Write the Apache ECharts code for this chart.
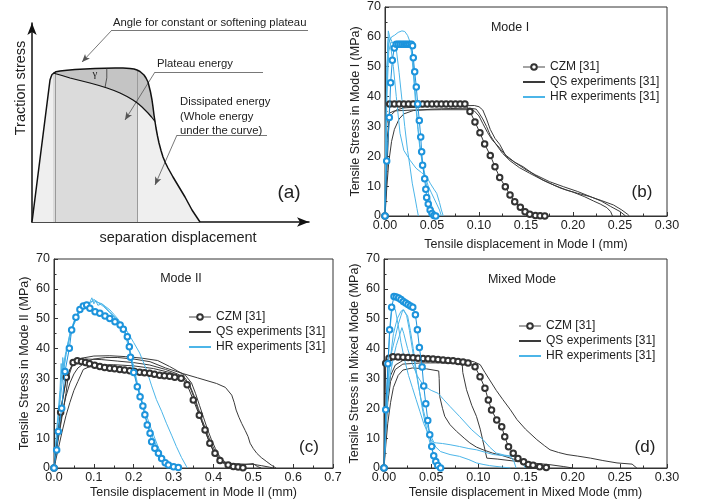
<!DOCTYPE html>
<html><head><meta charset="utf-8">
<script src="https://cdn.jsdelivr.net/npm/echarts@6/dist/echarts.min.js"></script>
<style>html,body{margin:0;padding:0;background:#fff}#c{width:702px;height:504px}</style>
</head><body><div id="c"></div>
<script>
// ---------- Panel (a) schematic (arbitrary units) ----------
const schemUpper = [[0,0],[18,142],[19,145],[20,147.5],[21,149],[24,150.3],[28,151],[35,151.8],[43,152.5],[53,153],[63,153.5],[73,153.8],[83,154],[91,153.9],[98,153.5],[102,153],[105,152],[108,150.5],[110,149],[112,147],[114,144],[116,140],[117,136],[118.5,130],[120,122],[121,115],[122,107],[123,100.5],[124,94],[125.5,86],[127,79],[129,71.5],[131,65],[133.5,59],[136,54],[138.5,49.5],[141,45],[144,40],[147,35],[150,30],[153,25],[156.5,18.5],[160,12],[164,6],[168,0]];
const schemLower = [[21,149],[30,146.5],[38,144],[48,141.5],[58,139],[67,136.5],[75,134],[82,131.5],[88,129],[95,125.5],[101,122],[106,118.5],[110,115],[113,112],[116,109],[119.5,105],[123,100.5]];
const schemBand = [23, 105];
const notes = [
  {text:'Angle for constant or softening plateau', line:[[80,192],[276,192]], arrow:[[80,192],[50,160]]},
  {text:'Plateau energy', line:[[123,150],[231,150]], arrow:[[123,150],[93,102]]},
  {text:'Dissipated energy\n(Whole energy\nunder the curve)', line:[[145,87],[235,87]], arrow:[[145,87],[123,37]]}
];

// ---------- Panel (b) Mode I ----------
const modeI_czmQS = [[0,0],[0.005,37.5],[0.010,37.5],[0.015,37.5],[0.020,37.5],[0.025,37.5],[0.030,37.5],[0.035,37.5],[0.040,37.5],[0.045,37.5],[0.050,37.5],[0.055,37.5],[0.060,37.5],[0.065,37.5],[0.070,37.5],[0.075,37.5],[0.080,37.5],[0.085,37.5],[0.0904,35],[0.0957,31.5],[0.101,27.9],[0.106,24.1],[0.112,20.3],[0.117,16.5],[0.122,12.9],[0.128,9.8],[0.133,7.0],[0.138,4.8],[0.144,2.9],[0.149,1.4],[0.154,0.6],[0.160,0.2],[0.165,0.05],[0.170,0]];
const modeI_czmHR = [[0,0],[0.0018,18.4],[0.0046,33],[0.006,44.6],[0.0078,52.2],[0.0099,56.3],[0.012,57.5],[0.014,57.5],[0.016,57.5],[0.018,57.5],[0.020,57.5],[0.022,57.5],[0.024,57.5],[0.026,57.5],[0.028,57.5],[0.0293,57],[0.0301,53],[0.0316,48.3],[0.0333,43.2],[0.0348,37.5],[0.0365,32],[0.038,26.5],[0.039,21.5],[0.040,17],[0.0422,12.5],[0.0434,9],[0.0443,6.2],[0.046,4],[0.048,2],[0.050,0.8],[0.052,0.2],[0.054,0]];
const modeI_qs1 = [[0,0],[0.001,15],[0.002,25],[0.004,31],[0.007,34],[0.012,35.5],[0.02,36.2],[0.04,36.6],[0.06,36.8],[0.08,36.9],[0.095,37],[0.1,36.6],[0.104,35.5],[0.108,32.5],[0.112,29],[0.117,26],[0.122,24],[0.129,19.9],[0.138,18],[0.147,16.5],[0.158,14],[0.168,12],[0.18,10.3],[0.193,8.7],[0.205,7.6],[0.218,6.5],[0.23,5.2],[0.243,3.7],[0.252,2],[0.258,0.6],[0.26,0]];
const modeI_qs2 = [[0,0],[0.002,10],[0.004,18],[0.007,25],[0.01,29],[0.015,32.5],[0.02,34.2],[0.03,35.3],[0.05,35.8],[0.07,36],[0.09,36.1],[0.097,35.8],[0.1,34.5],[0.104,32.5],[0.108,30],[0.112,27],[0.117,24.5],[0.125,21],[0.133,18.5],[0.143,16.2],[0.154,14.3],[0.165,12.5],[0.175,11],[0.187,9.3],[0.2,8],[0.212,6.5],[0.222,5],[0.229,4],[0.236,2.8],[0.24,1.5],[0.242,0]];
const modeI_qs3 = [[0,0],[0.0005,12],[0.001,22],[0.0015,28],[0.002,31],[0.003,33],[0.005,34.5],[0.01,35.2],[0.03,35.5],[0.06,35.6],[0.09,35.6],[0.095,35.2],[0.1,33.5],[0.104,31],[0.109,28],[0.114,25.5],[0.12,23.5],[0.128,20.5],[0.138,18],[0.15,15.5],[0.16,13.8],[0.175,11.5],[0.19,9.8],[0.205,8.2],[0.22,6.3],[0.23,5],[0.24,3.2],[0.25,1.5],[0.256,0]];
const modeI_hr1 = [[0,0],[0.001,22],[0.002,45],[0.0035,62],[0.005,60],[0.008,58],[0.0117,56.7],[0.015,48],[0.018,39],[0.021,30],[0.024,22],[0.0266,16.5],[0.029,11],[0.032,6],[0.034,2.5],[0.0355,0]];
const modeI_hr2 = [[0,0],[0.001,25],[0.002,48],[0.003,58],[0.004,60],[0.006,57],[0.0089,50],[0.012,40],[0.016,27.7],[0.02,22],[0.0266,18.7],[0.033,16],[0.039,14.5],[0.0443,13.2],[0.048,11],[0.052,9],[0.055,7.6],[0.058,4.5],[0.06,2],[0.062,0]];
const modeI_hr3 = [[0,0],[0.001,30],[0.002,50],[0.004,58],[0.007,60],[0.010,60.5],[0.014,61.5],[0.018,62],[0.021,61.8],[0.024,60.5],[0.027,58],[0.029,52],[0.031,44],[0.033,36],[0.035,29],[0.037,23],[0.040,17],[0.043,12],[0.046,8],[0.049,4],[0.052,1.5],[0.055,0]];
const modeI_hr4 = [[0,0],[0.002,40],[0.004,55],[0.006,58],[0.015,58.5],[0.025,58],[0.029,55],[0.031,47],[0.033,38],[0.035,30],[0.037,24],[0.040,18],[0.043,13],[0.046,10],[0.049,8],[0.052,6],[0.055,4],[0.058,2],[0.060,0]];

// ---------- Panel (c) Mode II ----------
const modeII_czmQS = [[0,0],[0.0167,18.7],[0.031,30.4],[0.048,35.3],[0.0585,35.9],[0.069,35.7],[0.079,35.3],[0.089,34.9],[0.102,34.4],[0.115,34],[0.127,33.7],[0.14,33.4],[0.152,33.2],[0.165,33],[0.177,32.8],[0.19,32.6],[0.202,32.3],[0.215,32.1],[0.227,31.9],[0.24,31.7],[0.252,31.4],[0.265,31.1],[0.277,30.9],[0.29,30.7],[0.303,30.4],[0.319,30.1],[0.334,27.9],[0.3495,22.8],[0.3646,17.7],[0.379,12.7],[0.391,8.3],[0.404,4.9],[0.4165,2.5],[0.437,1],[0.45,0.5],[0.462,0.3],[0.474,0.1]];
const modeII_czmHR = [[0,0],[0.0067,6],[0.0108,12.2],[0.0193,20],[0.0276,32.3],[0.0385,40.1],[0.0443,46.2],[0.055,50.5],[0.065,53.1],[0.0736,54.3],[0.082,54.6],[0.09,53.5],[0.103,52.3],[0.115,51.8],[0.128,50.9],[0.14,50.1],[0.153,49],[0.166,47.9],[0.174,46.5],[0.184,44],[0.189,40.6],[0.192,37.1],[0.2,32],[0.209,27.2],[0.216,23.9],[0.223,20.8],[0.228,17.8],[0.234,14.4],[0.241,11.6],[0.245,8.8],[0.253,6.6],[0.262,4.9],[0.27,3.2],[0.279,1.8],[0.287,1],[0.3,0.4],[0.312,0.2]];
const modeII_qs1 = [[0,0],[0.01,10],[0.02,18],[0.03,24],[0.04,28.5],[0.05,31.5],[0.06,33.5],[0.08,35.5],[0.1,36.5],[0.13,37],[0.16,37],[0.2,36.5],[0.241,35.6],[0.28,33.5],[0.324,31.6],[0.36,30.2],[0.408,28.3],[0.43,27],[0.446,24.4],[0.452,22],[0.457,19.4],[0.464,17],[0.471,14.9],[0.48,12.5],[0.487,10.5],[0.492,8.3],[0.5,6.5],[0.509,4.9],[0.52,3.5],[0.534,2.1],[0.545,1],[0.557,0]];
const modeII_qs2 = [[0,0],[0.01,12],[0.02,22],[0.03,29],[0.04,33],[0.05,35],[0.07,36.8],[0.1,37.5],[0.14,37.6],[0.18,37.3],[0.22,36.8],[0.26,36],[0.29,34],[0.31,32.5],[0.33,31],[0.345,28.5],[0.355,25],[0.365,21],[0.375,17],[0.385,13],[0.395,9.5],[0.405,6.5],[0.415,4],[0.425,2.5],[0.435,1.5],[0.44,1.2],[0.5,1.2],[0.52,0.8],[0.54,0.3],[0.55,0]];
const modeII_qs3 = [[0,0],[0.01,9],[0.02,17],[0.03,25],[0.035,30],[0.045,34],[0.06,36],[0.08,36.5],[0.12,36.3],[0.16,35.8],[0.2,35.3],[0.24,34.5],[0.28,33],[0.31,31.5],[0.33,30],[0.34,27.5],[0.35,24],[0.36,20],[0.37,16],[0.38,12],[0.39,8.5],[0.4,5.5],[0.41,3.5],[0.42,2],[0.43,1.2],[0.44,0.6],[0.46,0.3],[0.48,0]];
const modeII_qs4 = [[0,0],[0.01,6],[0.02,12],[0.03,17.5],[0.04,22],[0.05,26],[0.06,29],[0.0735,33],[0.09,34],[0.115,34.5],[0.15,34.6],[0.2,34.2],[0.25,33.3],[0.29,32],[0.32,30.5],[0.34,28],[0.352,24],[0.362,20],[0.372,16],[0.382,12.5],[0.392,9],[0.403,6],[0.415,3.5],[0.425,2],[0.44,1.2],[0.47,1],[0.5,1.5],[0.51,0.5],[0.52,0]];
const modeII_hr1 = [[0,0],[0.005,8],[0.01,15],[0.015,22],[0.02,28],[0.025,34],[0.03,38],[0.04,44],[0.05,48],[0.06,51],[0.07,53.5],[0.08,54.5],[0.09,55.5],[0.1,56],[0.12,55],[0.14,52.4],[0.16,49.5],[0.181,46.3],[0.2,42],[0.215,38.5],[0.232,32.9],[0.245,27.5],[0.257,22.9],[0.27,19],[0.282,15],[0.295,11],[0.307,7.2],[0.32,3.5],[0.332,0.6],[0.335,0]];
const modeII_hr2 = [[0,0],[0.005,10],[0.01,18],[0.015,26],[0.018,35],[0.02,30],[0.022,37],[0.025,33],[0.03,38],[0.04,45],[0.05,49],[0.06,52],[0.07,54],[0.08,54.5],[0.09,55.5],[0.095,57],[0.1,55],[0.105,56],[0.11,54.5],[0.12,55],[0.13,54],[0.14,53],[0.15,51.5],[0.16,50],[0.17,48],[0.18,45],[0.19,40],[0.2,34],[0.21,28],[0.22,23],[0.23,18.5],[0.24,14.5],[0.25,11],[0.26,7.5],[0.27,4.5],[0.28,2.5],[0.29,1],[0.3,0]];
const modeII_hr3 = [[0,0],[0.008,12],[0.015,24],[0.02,32],[0.03,39],[0.04,45],[0.05,49],[0.06,51.5],[0.07,53],[0.08,54],[0.09,55],[0.1,56.5],[0.11,55.5],[0.125,54],[0.14,52],[0.155,50],[0.17,47],[0.18,44],[0.19,39],[0.2,33],[0.21,27],[0.22,22],[0.23,17],[0.24,13],[0.25,9.5],[0.26,6.5],[0.27,4],[0.28,2],[0.29,0.8],[0.3,0]];

// ---------- Panel (d) Mixed Mode ----------
const mixed_czmQS = [[0,0],[0.0018,35.1],[0.0053,36.8],[0.0096,37.3],[0.0149,37.2],[0.0202,37.1],[0.0255,37.0],[0.0308,36.9],[0.0361,36.8],[0.0414,36.7],[0.0467,36.6],[0.052,36.5],[0.0573,36.3],[0.0626,36.2],[0.0679,36.0],[0.0732,35.9],[0.0785,35.7],[0.0838,35.5],[0.0891,35.2],[0.0965,33.9],[0.1018,30.6],[0.107,26.7],[0.1106,22.8],[0.114,19.4],[0.1195,16.1],[0.1248,13.8],[0.128,10.5],[0.132,7.1],[0.137,4.9],[0.142,3.2],[0.148,2.1],[0.153,1.2],[0.158,0.9],[0.165,0.4],[0.172,0.2]];
const mixed_czmHR = [[0,0],[0.0018,19.5],[0.0042,34.9],[0.006,46.3],[0.0081,53.8],[0.0106,57.4],[0.013,57.3],[0.0155,56.9],[0.018,56.4],[0.0205,55.8],[0.023,55.3],[0.0255,54.8],[0.028,54.3],[0.0305,53.8],[0.0333,51.3],[0.0354,46.3],[0.0375,40.4],[0.0404,33.8],[0.0421,27.5],[0.0443,21.5],[0.0464,15.9],[0.0485,11.1],[0.0506,7.2],[0.0527,4.1],[0.0549,2.2],[0.057,0.8],[0.06,0]];
const mixed_qs1 = [[0,0],[0.002,15],[0.004,25],[0.007,31],[0.012,34.5],[0.02,36],[0.04,36.6],[0.06,36.5],[0.08,36.3],[0.09,36],[0.096,35.5],[0.102,34.6],[0.107,32],[0.112,29.5],[0.119,26],[0.126,22.9],[0.134,19.5],[0.141,16.2],[0.15,13],[0.162,9.5],[0.17,7.5],[0.176,6.1],[0.185,5.2],[0.194,4.5],[0.205,4],[0.219,3.3],[0.232,2.5],[0.247,1.7],[0.263,1.3],[0.266,0.5],[0.268,0]];
const mixed_qs2 = [[0,0],[0.002,12],[0.004,22],[0.007,29],[0.012,33],[0.02,34.8],[0.04,35.2],[0.06,35.2],[0.075,35],[0.083,34.5],[0.0835,32],[0.0875,26.2],[0.093,21],[0.098,17.3],[0.102,13],[0.107,6.1],[0.109,3.3],[0.12,3],[0.141,2.2],[0.16,1.6],[0.176,1.1],[0.19,0.5],[0.2,0]];
const mixed_qs3 = [[0,0],[0.002,8],[0.004,15],[0.007,22],[0.01,27],[0.015,31],[0.02,32.8],[0.03,33.5],[0.045,33.2],[0.058,32.5],[0.0585,30],[0.059,24],[0.062,20],[0.0644,17.3],[0.07,14.5],[0.0768,12.3],[0.085,10],[0.091,8.4],[0.098,7],[0.105,6.1],[0.115,5],[0.126,4.1],[0.137,3],[0.148,2.2],[0.156,1.4],[0.162,0.8],[0.165,0]];
const mixed_hr1 = [[0,0],[0.002,15],[0.004,28],[0.006,36],[0.009,40],[0.012,44],[0.015,48],[0.018,51],[0.02,53],[0.022,53.5],[0.025,51],[0.028,46],[0.031,40],[0.034,33],[0.037,27],[0.04,21],[0.043,16],[0.046,12],[0.049,8],[0.052,5],[0.055,2.5],[0.058,1],[0.06,0]];
const mixed_hr2 = [[0,0],[0.002,14],[0.004,24],[0.007,32],[0.01,37],[0.013,41],[0.016,44],[0.019,47],[0.021,45],[0.025,40],[0.03,35],[0.035,31],[0.04,28.5],[0.045,27],[0.05,26],[0.0574,25],[0.063,23],[0.07,20.6],[0.08,17.3],[0.093,12.8],[0.105,9.5],[0.112,7],[0.119,5],[0.128,4.3],[0.137,3.9],[0.142,3.3],[0.147,1.5],[0.15,0]];
const mixed_hr3 = [[0,0],[0.003,20],[0.006,35],[0.01,45],[0.014,50],[0.018,52.5],[0.021,53],[0.024,51],[0.027,46],[0.03,40],[0.034,32],[0.038,25],[0.042,19],[0.046,14],[0.05,10.5],[0.053,8.5],[0.0556,8.4],[0.062,8.2],[0.07,7.8],[0.08,7.2],[0.09,6.5],[0.098,6.1],[0.107,5.3],[0.116,4.5],[0.125,4.2],[0.134,3.9],[0.138,2],[0.14,0]];
const mixed_hr4 = [[0,0],[0.002,18],[0.004,33],[0.006,45],[0.008,52],[0.01,54],[0.012,53],[0.015,48],[0.018,42],[0.022,36],[0.026,31],[0.03,27],[0.034,23],[0.038,19],[0.042,15],[0.046,12],[0.05,9.5],[0.055,7],[0.06,5.5],[0.07,4.5],[0.08,3.9],[0.09,2.8],[0.098,1.7],[0.105,1.2],[0.112,0.8],[0.125,0.3],[0.134,0]];

// ---------- text ----------
const legendNames = ['CZM [31]','QS experiments [31]','HR experiments [31]'];
const panelTitles = ['Mode I','Mode II','Mixed Mode'];
const xNames = ['Tensile displacement in Mode I (mm)','Tensile displacement in Mode II (mm)','Tensile displacement in Mixed Mode (mm)'];
const yNames = ['Tensile Stress in Mode I (MPa)','Tensile Stress in Mode II (MPa)','Tensile Stress in Mixed Mode (MPa)'];
const xMax = [0.3, 0.7, 0.3];
const xStep = [0.05, 0.1, 0.05];
const xDec = [2, 1, 2];
const yMax = 70, yStep = 10;

const FONT = '"Liberation Sans", Arial, Helvetica, sans-serif';
const BLACK = '#333333', QSC = '#3a3a3a', HRC = '#4cb5e8', BLUE = '#1d94dc';

function interpY(pts, x) {
  for (let i = 0; i < pts.length - 1; i++) {
    const a = pts[i], b = pts[i+1];
    if (x >= a[0] && x <= b[0]) return a[1] + (b[1]-a[1]) * (x-a[0]) / (b[0]-a[0]);
  }
  return 0;
}
function clipX(pts, x0, x1) {
  const out = [[x0, interpY(pts, x0)]];
  pts.forEach(p => { if (p[0] > x0 && p[0] < x1) out.push(p); });
  out.push([x1, interpY(pts, x1)]);
  return out;
}

const grids = [
  {left:32, top:23, width:277, height:199},
  {left:385, top:7, width:282, height:209, show:true, borderColor:'#333', borderWidth:1},
  {left:54, top:259, width:279, height:209, show:true, borderColor:'#333', borderWidth:1},
  {left:384, top:259, width:283, height:209, show:true, borderColor:'#333', borderWidth:1}
];

const xAxes = [{
  gridIndex:0, type:'value', min:0, max:277,
  axisLine:{show:true, onZero:false, symbol:['none','arrow'], symbolSize:[7,12], lineStyle:{color:'#111', width:1.5}},
  axisTick:{show:false}, axisLabel:{show:false}, splitLine:{show:false}
}];
const yAxes = [{
  gridIndex:0, type:'value', min:0, max:199,
  axisLine:{show:true, onZero:false, symbol:['none','arrow'], symbolSize:[7,12], lineStyle:{color:'#111', width:1.5}},
  axisTick:{show:false}, axisLabel:{show:false}, splitLine:{show:false}
}];
const xGap = [22, 18, 18];
for (let i = 0; i < 3; i++) {
  xAxes.push({
    gridIndex:i+1, type:'value', min:0, max:xMax[i], interval:xStep[i],
    name:xNames[i], nameLocation:'middle', nameGap:xGap[i],
    nameTextStyle:{fontSize:12.5, color:'#222', fontFamily:FONT},
    axisLine:{show:true, onZero:false, lineStyle:{color:'#333', width:1}},
    axisTick:{show:true, inside:true, length:4, lineStyle:{color:'#333'}},
    minorTick:{show:true, splitNumber:2, length:2.5, lineStyle:{color:'#333'}},
    axisLabel:{fontSize:12.5, color:'#222', margin:3, fontFamily:FONT, showMinLabel:true, showMaxLabel:true,
      formatter:(v => v.toFixed(xDec[i]))},
    splitLine:{show:false}
  });
  yAxes.push({
    gridIndex:i+1, type:'value', min:0, max:yMax, interval:yStep,
    name:yNames[i], nameLocation:'middle', nameGap:23,
    nameTextStyle:{fontSize:12.5, color:'#222', fontFamily:FONT},
    axisLine:{show:true, onZero:false, lineStyle:{color:'#333', width:1}},
    axisTick:{show:true, inside:true, length:4, lineStyle:{color:'#333'}},
    minorTick:{show:true, splitNumber:2, length:2.5, lineStyle:{color:'#333'}},
    axisLabel:{fontSize:12.5, color:'#222', margin:4, fontFamily:FONT, showMinLabel:true, showMaxLabel:true},
    splitLine:{show:false}
  });
}

function base(name, data, gi, z) {
  return {type:'line', name:name, data:data, xAxisIndex:gi, yAxisIndex:gi, z:z, animation:false, silent:true, clip:true};
}
function lineS(name, data, gi, color, width, z) {
  return Object.assign(base(name, data, gi, z), {symbol:'none', showSymbol:false, lineStyle:{color:color, width:width}, itemStyle:{color:color}});
}
function czmS(data, gi, color, z) {
  return Object.assign(base('CZM [31]', data, gi, z), {symbol:'emptyCircle', symbolSize:5.5, showSymbol:true,
    lineStyle:{color:color, width:1}, itemStyle:{color:color, borderColor:color, borderWidth:0.8}});
}
function fillS(name, data, color, z) {
  return Object.assign(base(name, data, 0, z), {symbol:'none', smooth:false, lineStyle:{width:0, opacity:0}, areaStyle:{color:color, opacity:1}});
}

const series = [];
// Panel (a)
series.push(fillS('a_total', schemUpper, '#efefef', 1));
series.push(fillS('a_plateau', clipX(schemUpper, schemLower[0][0], schemLower[schemLower.length-1][0]), '#c4c4c4', 2));
series.push(fillS('a_band', clipX(schemLower, schemLower[0][0], schemBand[1]), '#dbdbdb', 3));
series.push(fillS('a_rest', clipX(schemLower, schemBand[1], schemLower[schemLower.length-1][0]), '#efefef', 3));
series.push(Object.assign(base('a_bandlines', [], 0, 4), {symbol:'none',
  markLine:{silent:true, animation:false, symbol:['none','none'], label:{show:false}, lineStyle:{type:'solid', color:'#9a9a9a', width:1},
    data: schemBand.map(x => [{coord:[x,0]},{coord:[x, interpY(schemUpper, x)]}])}}));
series.push(Object.assign(base('a_upper', schemUpper, 0, 5), {symbol:'none', smooth:false, lineStyle:{color:'#111', width:1.5}}));
series.push(Object.assign(base('a_lower', schemLower, 0, 5), {symbol:'none', smooth:false, lineStyle:{color:'#111', width:1.2}}));
const noteLines = [];
notes.forEach(n => {
  noteLines.push([{coord:n.line[0], symbol:'none'},{coord:n.line[1], symbol:'none'}]);
  noteLines.push([{coord:n.arrow[0], symbol:'none'},{coord:n.arrow[1], symbol:'arrow', symbolSize:[5,8]}]);
});
series.push(Object.assign(base('a_notes', [], 0, 6), {symbol:'none',
  markLine:{silent:true, animation:false, label:{show:false}, lineStyle:{type:'solid', color:'#555', width:0.8}, data:noteLines}}));

// Panel (b)
series.push(czmS(modeI_czmQS, 1, BLACK, 6));
[modeI_qs1, modeI_qs2, modeI_qs3].forEach(d => series.push(lineS('QS experiments [31]', d, 1, QSC, 1, 3)));
[modeI_hr1, modeI_hr2, modeI_hr3, modeI_hr4].forEach(d => series.push(lineS('HR experiments [31]', d, 1, HRC, 1, 4)));
series.push(czmS(modeI_czmHR, 1, BLUE, 7));
// Panel (c)
[modeII_qs1, modeII_qs2, modeII_qs3, modeII_qs4].forEach(d => series.push(lineS('QS experiments [31]', d, 2, QSC, 1, 3)));
[modeII_hr1, modeII_hr2, modeII_hr3].forEach(d => series.push(lineS('HR experiments [31]', d, 2, HRC, 1, 4)));
series.push(czmS(modeII_czmQS, 2, BLACK, 6));
series.push(czmS(modeII_czmHR, 2, BLUE, 7));
// Panel (d)
[mixed_qs1, mixed_qs2, mixed_qs3].forEach(d => series.push(lineS('QS experiments [31]', d, 3, QSC, 1, 3)));
[mixed_hr1, mixed_hr2, mixed_hr3, mixed_hr4].forEach(d => series.push(lineS('HR experiments [31]', d, 3, HRC, 1, 4)));
series.push(czmS(mixed_czmQS, 3, BLACK, 6));
series.push(czmS(mixed_czmHR, 3, BLUE, 7));

function mkLegend(left, top) {
  return {left:left, top:top, orient:'vertical', itemWidth:22, itemHeight:7, itemGap:3, padding:0, selectedMode:false,
    textStyle:{fontSize:12, color:'#222', fontFamily:FONT},
    data:[{name:legendNames[0], lineStyle:{color:'#666', width:1.2}},{name:legendNames[1], itemStyle:{opacity:0}},{name:legendNames[2], itemStyle:{opacity:0}}]};
}

function txt(x, y, text, size, align, extra) {
  return Object.assign({type:'text', x:x, y:y, silent:true, z:100,
    style:{text:text, font:size + 'px ' + FONT, fill:'#222', align:align || 'center', verticalAlign:'middle'}}, extra || {});
}
const graphic = [
  txt(113, 23, notes[0].text, 11.3, 'left'),
  txt(157, 64, notes[1].text, 11.3, 'left'),
  {type:'text', x:180, y:95, silent:true, z:100, style:{text:notes[2].text, font:'11.3px ' + FONT, fill:'#222', align:'left', verticalAlign:'top', lineHeight:14.3}},
  txt(289, 193, '(a)', 19),
  txt(178, 238, 'separation displacement', 14.5),
  txt(21, 88, 'Traction stress', 14.5, 'center', {rotation:Math.PI/2}),
  txt(510, 28, panelTitles[0], 12.5),
  txt(181, 279, panelTitles[1], 12.5),
  txt(522, 280, panelTitles[2], 12.5),
  txt(642, 192, '(b)', 17),
  txt(309, 447, '(c)', 17),
  txt(645, 447, '(d)', 17)
];

const chart = echarts.init(document.getElementById('c'), null, {renderer:'canvas'});
const option = {
  animation:false, backgroundColor:'#ffffff',
  textStyle:{fontFamily:FONT},
  grid:grids, xAxis:xAxes, yAxis:yAxes,
  legend:[mkLegend(522, 61), mkLegend(188, 311), mkLegend(518, 320)],
  series:series, graphic:graphic
};
chart.setOption(option);
// angle arc at the plateau corner, placed from data coordinates
const corner = chart.convertToPixel({gridIndex:0}, schemLower[0]);
graphic.push({type:'arc', silent:true, z:100, shape:{cx:corner[0], cy:corner[1], r:54, startAngle:-0.09, endAngle:0.27, clockwise:true},
  style:{stroke:'#333', fill:null, lineWidth:0.8}});
graphic.push(txt(corner[0] + 42, corner[1] + 1.5, 'γ', 11, 'center', {style:{text:'γ', font:'11px "Liberation Serif", serif', fill:'#222', align:'center', verticalAlign:'middle'}}));
chart.setOption({graphic:graphic});
</script></body></html>
